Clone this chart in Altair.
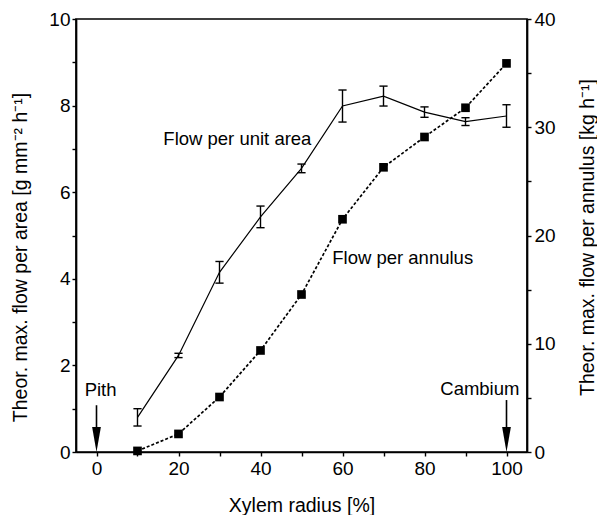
import altair as alt
import pandas as pd

# ---- data ----
radius = [10, 20, 30, 40, 50, 60, 70, 80, 90, 100]
area_mean = [0.80, 2.23, 4.15, 5.43, 6.55, 7.99, 8.22, 7.85, 7.63, 7.76]
area_err = [0.20, 0.05, 0.25, 0.25, 0.10, 0.37, 0.23, 0.12, 0.09, 0.26]
annulus = [0.10, 1.67, 5.08, 9.38, 14.55, 21.5, 26.3, 29.1, 31.8, 35.9]

# annotations (x in % radius, y in left-axis units)
series_labels = ["Flow per unit area", "Flow per annulus"]
series_label_x = [16.3, 57.5]
series_label_y = [7.24, 4.48]

marker_names = ["Pith", "Cambium"]
marker_x = [0, 100]
marker_text_x = [1, 93.5]
marker_text_y = [1.43, 1.45]
marker_shaft_top = [1.08, 1.20]
marker_head_y = [0.29, 0.29]

FONT = "Liberation Sans, Arial, Helvetica, sans-serif"

df_area = pd.DataFrame({"x": radius, "y": area_mean, "err": area_err})
df_ann = pd.DataFrame({"x": radius, "y": annulus})
df_lab = pd.DataFrame({"x": series_label_x, "y": series_label_y, "t": series_labels})
df_mark = pd.DataFrame({
    "x": marker_x, "tx": marker_text_x, "ty": marker_text_y,
    "top": marker_shaft_top, "head": marker_head_y, "t": marker_names,
})

x_scale = alt.Scale(domain=[-5, 105], nice=False, zero=False)
x_axis = alt.Axis(
    values=list(range(0, 101, 10)),
    labelExpr="datum.value % 20 === 0 ? datum.label : ''",
    title="Xylem radius [%]", titleY=53, titleBaseline="middle",
    labelPadding=3,
)
yl_scale = alt.Scale(domain=[0, 10], nice=False, zero=False)
yl_axis = alt.Axis(
    values=list(range(0, 11)),
    labelExpr="datum.value % 2 === 0 ? datum.label : ''",
    title="Theor. max. flow per area [g mm\u207b\u00b2 h\u207b\u00b9]",
    titleX=-56, titleY=238, titleBaseline="middle", titleAngle=270,
    labelPadding=2,
)
yr_scale = alt.Scale(domain=[0, 40], nice=False, zero=False)
yr_axis = alt.Axis(
    orient="right",
    values=list(range(0, 41, 5)),
    labelExpr="datum.value % 10 === 0 ? datum.label : ''",
    title="Theor. max. flow per annulus [kg h\u207b\u00b9]",
    titleX=60, titleY=218, titleBaseline="middle", titleAngle=270,
    labelPadding=3,
)

X = alt.X("x:Q", scale=x_scale, axis=x_axis)

base_area = alt.Chart(df_area)
area_line = base_area.mark_line(color="black", strokeWidth=1.2).encode(
    x=X, y=alt.Y("y:Q", scale=yl_scale, axis=yl_axis)
)
err_df = base_area.transform_calculate(
    lo="datum.y - datum.err", hi="datum.y + datum.err",
    xl="datum.x - 1", xr="datum.x + 1",
)
err_rule = err_df.mark_rule(color="black", strokeWidth=1.4).encode(
    x=X, y=alt.Y("lo:Q", scale=yl_scale), y2="hi:Q"
)
cap_hi = err_df.mark_rule(color="black", strokeWidth=1.4).encode(
    x=alt.X("xl:Q", scale=x_scale, axis=x_axis), x2="xr:Q",
    y=alt.Y("hi:Q", scale=yl_scale),
)
cap_lo = err_df.mark_rule(color="black", strokeWidth=1.4).encode(
    x=alt.X("xl:Q", scale=x_scale, axis=x_axis), x2="xr:Q",
    y=alt.Y("lo:Q", scale=yl_scale),
)

labels = alt.Chart(df_lab).mark_text(
    align="left", baseline="middle", font=FONT, fontSize=18.5, color="black"
).encode(x=X, y=alt.Y("y:Q", scale=yl_scale), text="t:N")

marks = alt.Chart(df_mark)
mark_text = marks.mark_text(
    align="center", baseline="middle", font=FONT, fontSize=18.5, color="black"
).encode(
    x=alt.X("tx:Q", scale=x_scale, axis=x_axis),
    y=alt.Y("ty:Q", scale=yl_scale), text="t:N",
)
shaft = marks.mark_rule(color="black", strokeWidth=1.6).encode(
    x=X, y=alt.Y("head:Q", scale=yl_scale), y2="top:Q"
)
head = marks.mark_point(
    shape="M-0.35,-1L0.35,-1L0,1Z", size=625, filled=True,
    color="black", opacity=1, strokeWidth=0,
).encode(x=X, y=alt.Y("head:Q", scale=yl_scale))

left = alt.layer(area_line, err_rule, cap_hi, cap_lo, labels, mark_text, shaft, head)

base_ann = alt.Chart(df_ann)
ann_line = base_ann.mark_line(
    color="black", strokeWidth=1.7, strokeDash=[3, 2]
).encode(x=X, y=alt.Y("y:Q", scale=yr_scale, axis=yr_axis))
ann_pts = base_ann.mark_point(
    shape="square", size=75, filled=True, color="black", opacity=1
).encode(x=X, y=alt.Y("y:Q", scale=yr_scale, axis=yr_axis))
right = alt.layer(ann_line, ann_pts)

chart = (
    alt.layer(left, right)
    .resolve_scale(y="independent")
    .properties(
        width=451, height=433,
        autosize=alt.AutoSizeParams(type="none"),
        padding={"left": 68, "top": 11, "right": 70, "bottom": 63},
        background="white",
    )
    .configure_view(stroke="black", strokeWidth=1.7)
    .configure_axis(
        grid=False, domainColor="black", domainWidth=1.7,
        tickColor="black", tickSize=4, tickWidth=1.4,
        labelFont=FONT, labelFontSize=19, labelColor="black",
        titleFont=FONT, titleFontSize=19.5, titleFontWeight="normal",
        titleColor="black",
    )
)

chart.save("out.html", embed_options={"renderer": "svg", "actions": False})
